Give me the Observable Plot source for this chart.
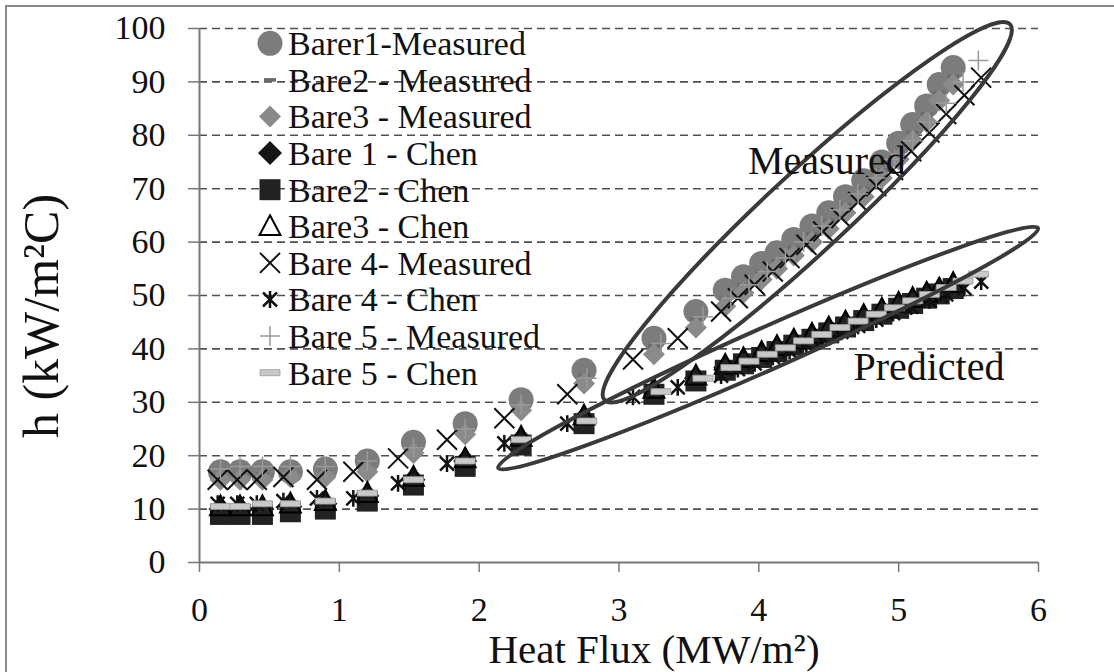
<!DOCTYPE html>
<html>
<head>
<meta charset="utf-8">
<script src="https://cdn.jsdelivr.net/npm/d3@7"></script>
<script src="https://cdn.jsdelivr.net/npm/@observablehq/plot@0.6"></script>
<style>
  html, body { margin: 0; padding: 0; background: #fff; }
  #chart svg { display: block; }
</style>
</head>
<body>
<div id="chart"></div>
<script>
// Heat flux (MW/m2) and heat transfer coefficient h (kW/m2C) per test section
const fluxBare123 = [0.15, 0.29, 0.45, 0.65, 0.9, 1.2, 1.53, 1.9, 2.3, 2.75, 3.25, 3.55, 3.76, 3.89, 4.02, 4.13, 4.25, 4.38, 4.5, 4.62, 4.75, 4.88, 5.0, 5.1, 5.2, 5.29, 5.39];
const bare1Measured = [17, 17, 17, 17, 17.5, 19, 22.5, 26, 30.5, 36, 42, 47, 51, 53.5, 56, 58, 60.5, 63, 65.5, 68.5, 71.5, 75, 78.5, 82, 85.5, 89.5, 92.7];
const bare2Measured = [16, 16.5, 16.5, 16.5, 17, 18, 21.5, 25, 29.5, 35, 40.5, 45.5, 49.5, 52, 54.5, 56.5, 59, 61.5, 64, 67, 70, 73.5, 77, 80.5, 84, 88, 91];
const bare3Measured = [15.5, 15.5, 15.5, 16, 16, 17, 20.5, 24, 28.5, 33.5, 39, 44, 48, 50.5, 53, 55, 57.5, 60, 62.5, 65.5, 68.5, 72, 75.5, 79, 82.5, 86.5, 89.5];
const bare1Chen = [10, 10, 10, 10.5, 11, 12.5, 15.5, 19, 23, 27, 32, 34.5, 36.5, 37.7, 38.9, 40, 41.2, 42.3, 43.5, 44.6, 45.8, 47, 48.1, 49, 50, 50.8, 51.8];
const bare2Chen = [9, 9, 9, 9.5, 10, 11.5, 14.5, 18, 22, 26, 31.5, 34, 36, 37.2, 38.4, 39.5, 40.7, 41.8, 43, 44.1, 45.3, 46.5, 47.6, 48.5, 49.5, 50.3, 51.3];
const bare3Chen = [10.5, 10.5, 10.5, 11, 11.5, 13, 16, 19.5, 23.5, 27.5, 32.5, 35, 37, 38.2, 39.4, 40.5, 41.7, 42.8, 44, 45.1, 46.3, 47.5, 48.6, 49.5, 50.5, 51.3, 52.3];

const fluxBare4 = [0.13, 0.27, 0.41, 0.6, 0.84, 1.1, 1.42, 1.77, 2.18, 2.63, 3.1, 3.42, 3.73, 3.85, 3.97, 4.1, 4.22, 4.34, 4.46, 4.59, 4.71, 4.84, 4.96, 5.09, 5.22, 5.34, 5.47, 5.59];
const bare4Measured = [15.5, 15.5, 15.5, 16, 15.5, 17, 19.5, 23, 27, 31.5, 38, 42, 47, 49.5, 52, 54.5, 57, 59.5, 62, 64.5, 67.5, 70.5, 73.5, 77, 80.5, 84, 87.5, 90.8];
const bare4Chen = [11, 11, 11, 11.5, 12, 12, 14.8, 18.5, 22.3, 26, 31, 32.8, 35, 36.2, 37.3, 38.5, 39.6, 40.8, 42, 43.2, 44.3, 45.5, 46.7, 47.9, 49.1, 50.2, 51.4, 52.6];

const fluxBare5 = [0.15, 0.29, 0.45, 0.65, 0.9, 1.2, 1.53, 1.9, 2.3, 2.77, 3.3, 3.6, 3.8, 3.93, 4.06, 4.19, 4.32, 4.45, 4.58, 4.71, 4.84, 4.97, 5.1, 5.22, 5.34, 5.46, 5.57];
const bare5Measured = [17.5, 18, 18, 18, 18, 19, 21.5, 25, 29.5, 34.5, 41, 46, 49.5, 52, 54.5, 57, 60, 63, 66, 69, 72, 75.5, 79, 82.5, 86, 90, 94];
const bare5Chen = [10.5, 10.5, 11, 11, 11.5, 13, 15.5, 19, 23, 26.5, 32, 34.5, 36.5, 37.7, 39, 40.2, 41.5, 42.7, 44, 45.2, 46.5, 47.7, 49, 50.2, 51.5, 52.7, 54];

const seriesNames = ["Barer1-Measured", "Bare2 - Measured", "Bare3 - Measured", "Bare 1 - Chen", "Bare2 - Chen", "Bare3 - Chen", "Bare 4- Measured", "Bare 4 - Chen", "Bare 5 - Measured", "Bare 5 - Chen"];
const xTicks = [0, 1, 2, 3, 4, 5, 6];
const yTicks = [0, 10, 20, 30, 40, 50, 60, 70, 80, 90, 100];
const gridLevels = [10, 20, 30, 40, 50, 60, 70, 80, 90, 100];
const xTitle = "Heat Flux (MW/m²)";
const yTitle = "h (kW/m²C)";

// Hand-drawn rings: the two ends of each ring in data units, and its label
const rings = [
  {from: [2.9, 30.3], to: [5.8, 100.7]},
  {from: [2.14, 17.6], to: [6.0, 62.5]}
];
const ringLabels = [
  {text: "Measured", flux: 4.49, h: 72.7},
  {text: "Predicted", flux: 5.22, h: 34.1}
];

// Marker shapes (size is the symbol area, as Plot passes it)
const rad = size => Math.sqrt(size / Math.PI);
const symbols = {
  circle: d3.symbolCircle,
  diamond: {draw(c, s) { const r = rad(s); c.moveTo(0, -r); c.lineTo(r, 0); c.lineTo(0, r); c.lineTo(-r, 0); c.closePath(); }},
  square: {draw(c, s) { const r = rad(s); c.rect(-r, -r, 2 * r, 2 * r); }},
  triangle: {draw(c, s) { const r = rad(s); c.moveTo(0, -r); c.lineTo(r * 0.95, r * 0.8); c.lineTo(-r * 0.95, r * 0.8); c.closePath(); }},
  times: {draw(c, s) { const r = rad(s); c.moveTo(-r, -r); c.lineTo(r, r); c.moveTo(r, -r); c.lineTo(-r, r); }},
  asterisk: {draw(c, s) { const r = rad(s); c.moveTo(-r, -r); c.lineTo(r, r); c.moveTo(r, -r); c.lineTo(-r, r); c.moveTo(0, -r * 1.2); c.lineTo(0, r * 1.2); }},
  plus: {draw(c, s) { const r = rad(s); c.moveTo(-r, 0); c.lineTo(r, 0); c.moveTo(0, -r); c.lineTo(0, r); }},
  dash: {draw(c, s) { const r = rad(s); c.rect(-r, -r * 0.3, 2 * r, r * 0.6); }}
};

const series = [
  {name: seriesNames[0], flux: fluxBare123, h: bare1Measured, symbol: "circle", r: 12.5, fill: "#7c7c7c", stroke: "none", sw: 0},
  {name: seriesNames[1], flux: fluxBare123, h: bare2Measured, symbol: "dash", r: 6, fill: "#6a6a6a", stroke: "none", sw: 0},
  {name: seriesNames[2], flux: fluxBare123, h: bare3Measured, symbol: "diamond", r: 11, fill: "#8a8a8a", stroke: "none", sw: 0},
  {name: seriesNames[3], flux: fluxBare123, h: bare1Chen, symbol: "diamond", r: 12, fill: "#151515", stroke: "none", sw: 0},
  {name: seriesNames[4], flux: fluxBare123, h: bare2Chen, symbol: "square", r: 10.5, fill: "#222", stroke: "none", sw: 0},
  {name: seriesNames[5], flux: fluxBare123, h: bare3Chen, symbol: "triangle", r: 11, fill: "none", stroke: "#000", sw: 2},
  {name: seriesNames[6], flux: fluxBare4, h: bare4Measured, symbol: "times", r: 10, fill: "none", stroke: "#111", sw: 2},
  {name: seriesNames[7], flux: fluxBare4, h: bare4Chen, symbol: "asterisk", r: 7, fill: "none", stroke: "#111", sw: 2.5},
  {name: seriesNames[8], flux: fluxBare5, h: bare5Measured, symbol: "plus", r: 10, fill: "none", stroke: "#9a9a9a", sw: 1.5},
  {name: seriesNames[9], flux: fluxBare5, h: bare5Chen, symbol: "dash", r: 10, fill: "#c9c9c9", stroke: "#9a9a9a", sw: 0.8}
];

const rows = series.flatMap(s => s.flux.map((f, i) => ({series: s.name, flux: f, h: s.h[i]})));

const serif = "'Liberation Serif', 'Times New Roman', serif";

const plot = Plot.plot({
  width: 1114,
  height: 672,
  marginLeft: 199,
  marginRight: 76,
  marginTop: 28,
  marginBottom: 110,
  x: {domain: [0, 6]},
  y: {domain: [0, 100]},
  style: {fontFamily: serif, fontSize: "34px", color: "#111", background: "#fff"},
  marks: [
    Plot.ruleY(gridLevels, {stroke: "#505050", strokeWidth: 1.6, strokeDasharray: "8,5"}),
    Plot.axisX({ticks: xTicks, tickFormat: d3.format("d"), tickSize: 10, tickPadding: 24, label: null, stroke: "#777", strokeWidth: 1.5}),
    Plot.axisY({ticks: yTicks, tickFormat: d3.format("d"), tickSize: 11, tickPadding: 23, label: null, stroke: "#777", strokeWidth: 1.5}),
    Plot.ruleX([0], {y1: 0, y2: 100, stroke: "#777", strokeWidth: 2}),
    Plot.ruleY([0], {x1: 0, x2: 6, stroke: "#777", strokeWidth: 2}),
    ...series.map(s => Plot.dot(rows.filter(d => d.series === s.name), {
      x: "flux", y: "h", symbol: symbols[s.symbol], r: s.r,
      fill: s.fill, stroke: s.stroke, strokeWidth: s.sw
    }))
  ]
});

const svg = d3.select(plot);
const sx = plot.scale("x"), sy = plot.scale("y");

// Rings around the measured and predicted groups
const ringWidths = [40, 21];
const ringLayer = svg.append("g").attr("fill", "none").attr("stroke", "#3a3a3a").attr("stroke-width", 4);
rings.forEach((e, i) => {
  const ax = sx.apply(e.from[0]), ay = sy.apply(e.from[1]);
  const bx = sx.apply(e.to[0]), by = sy.apply(e.to[1]);
  const cx = (ax + bx) / 2, cy = (ay + by) / 2;
  const rx = Math.hypot(bx - ax, by - ay) / 2;
  const ang = Math.atan2(by - ay, bx - ax) * 180 / Math.PI;
  ringLayer.append("ellipse")
    .attr("cx", cx).attr("cy", cy).attr("rx", rx).attr("ry", ringWidths[i])
    .attr("transform", `rotate(${ang},${cx},${cy})`);
});

const labelLayer = svg.append("g").attr("font-family", serif).attr("font-size", 40).attr("fill", "#111").attr("text-anchor", "middle");
ringLabels.forEach(l => {
  labelLayer.append("text").attr("x", sx.apply(l.flux)).attr("y", sy.apply(l.h)).text(l.text);
});

// Axis titles
const titles = svg.append("g").attr("font-family", serif).attr("fill", "#111").attr("text-anchor", "middle");
titles.append("text").attr("x", 654).attr("y", 663).attr("font-size", 41).text(xTitle);
titles.append("text").attr("transform", "translate(58,316) rotate(-90)").attr("font-size", 50).text(yTitle);

// Legend inside the plot area, top left
const legendMarkerX = 270, legendTextX = 288, legendTop = 43.3, legendGap = 36.6;
const legend = svg.append("g").attr("font-family", serif).attr("font-size", 34).attr("fill", "#111").attr("text-anchor", "start");
series.forEach((s, i) => {
  const y = legendTop + i * legendGap;
  legend.append("path")
    .attr("transform", `translate(${legendMarkerX},${y})`)
    .attr("d", d3.symbol(symbols[s.symbol], Math.PI * s.r * s.r)())
    .attr("fill", s.fill).attr("stroke", s.stroke).attr("stroke-width", s.sw);
  legend.append("text").attr("x", legendTextX).attr("y", y).attr("dy", "0.35em").text(s.name);
});

// Outer frame of the chart
svg.append("rect").attr("x", 6).attr("y", 6).attr("width", 1300).attr("height", 900)
  .attr("fill", "none").attr("stroke", "#8a8a8a").attr("stroke-width", 2);

document.getElementById("chart").appendChild(plot);
</script>
</body>
</html>
